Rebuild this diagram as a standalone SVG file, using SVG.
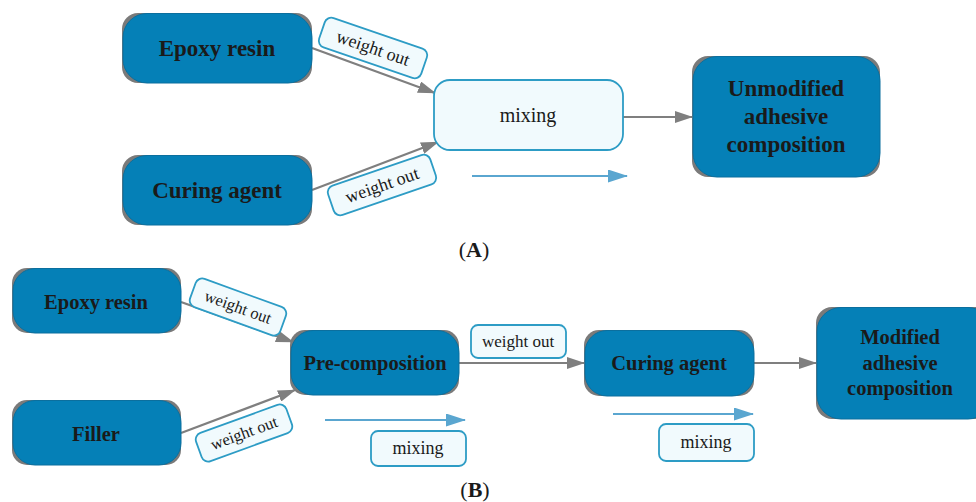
<svg xmlns="http://www.w3.org/2000/svg" width="976" height="502" viewBox="0 0 976 502">
<defs>
<marker id="ag" markerWidth="18" markerHeight="12" refX="17" refY="6" orient="auto" markerUnits="userSpaceOnUse" viewBox="0 0 18 12"><path d="M0,0 L18,6 L0,12 z" fill="#7f7f7f"/></marker>
<marker id="ab" markerWidth="20" markerHeight="13" refX="19" refY="6.5" orient="auto" markerUnits="userSpaceOnUse" viewBox="0 0 20 13"><path d="M0,0 L20,6.5 L0,13 z" fill="#5aa6d0"/></marker>
</defs>
<style>
.sh{fill:#7a7a7a}
.node{fill:#0580b7;stroke:#0b6f9e;stroke-width:1}
.lab{fill:#f1fafd;stroke:#2d9cc5;stroke-width:1.8}
.bt{font-family:"Liberation Serif","Times New Roman",serif;font-weight:bold;fill:#1a1a1a;text-anchor:middle}
.rt{font-family:"Liberation Serif","Times New Roman",serif;fill:#1a1a1a;text-anchor:middle}
.cg{stroke:#7f7f7f;stroke-width:2.2;fill:none}
.cb{stroke:#5aa6d0;stroke-width:2.2;fill:none}
</style>
<g id="connectors">
<line class="cg" x1="312" y1="48" x2="435" y2="93" marker-end="url(#ag)"/>
<line class="cg" x1="312" y1="190" x2="438" y2="142" marker-end="url(#ag)"/>
<line class="cg" x1="621" y1="117" x2="692" y2="117" marker-end="url(#ag)"/>
<line class="cb" x1="472" y1="176" x2="627" y2="176" marker-end="url(#ab)"/>
<line class="cg" x1="181" y1="302" x2="293" y2="342" marker-end="url(#ag)"/>
<line class="cg" x1="181" y1="433" x2="295" y2="390" marker-end="url(#ag)"/>
<line class="cg" x1="459" y1="363" x2="584" y2="363" marker-end="url(#ag)"/>
<line class="cg" x1="754" y1="363" x2="816" y2="363" marker-end="url(#ag)"/>
<line class="cb" x1="325" y1="420" x2="465" y2="420" marker-end="url(#ab)"/>
<line class="cb" x1="613" y1="414" x2="753" y2="414" marker-end="url(#ab)"/>
</g>
<g id="a-epoxy"><rect class="sh" x="122" y="13" width="190" height="70" rx="16"/><rect class="node" x="123" y="13.5" width="189" height="69.5" rx="24"/><text class="bt" x="217" y="56" font-size="23">Epoxy resin</text></g>
<g id="a-curing"><rect class="sh" x="122" y="155" width="190" height="70" rx="16"/><rect class="node" x="123" y="155.5" width="189" height="69.5" rx="24"/><text class="bt" x="217" y="198" font-size="23">Curing agent</text></g>
<g id="a-mixing"><rect class="lab" x="434" y="80" width="189" height="70" rx="16"/><text class="rt" x="528" y="122" font-size="20">mixing</text></g>
<g id="a-unmod"><rect class="sh" x="692" y="56" width="188" height="121" rx="16"/><rect class="node" x="693" y="56.5" width="187" height="120.5" rx="24"/><text class="bt" x="786" y="96" font-size="23">Unmodified</text><text class="bt" x="786" y="124" font-size="23">adhesive</text><text class="bt" x="786" y="152" font-size="23">composition</text></g>
<g id="a-w1" transform="translate(373,48) rotate(19)"><rect class="lab" x="-54" y="-15.5" width="108" height="31" rx="7"/><text class="rt" x="0" y="6" font-size="18">weight out</text></g>
<g id="a-w2" transform="translate(382,185) rotate(-19)"><rect class="lab" x="-54" y="-15.5" width="108" height="31" rx="7"/><text class="rt" x="0" y="6" font-size="18">weight out</text></g>
<text class="rt" x="474" y="257" font-size="22">(<tspan font-weight="bold">A</tspan>)</text>
<g id="b-epoxy"><rect class="sh" x="12" y="268" width="169" height="65" rx="15"/><rect class="node" x="13" y="268.5" width="168" height="64.5" rx="22"/><text class="bt" x="96" y="309" font-size="20.5">Epoxy resin</text></g>
<g id="b-filler"><rect class="sh" x="12" y="400" width="169" height="65" rx="15"/><rect class="node" x="13" y="400.5" width="168" height="64.5" rx="22"/><text class="bt" x="96" y="441" font-size="20.5">Filler</text></g>
<g id="b-pre"><rect class="sh" x="290" y="330" width="169" height="65" rx="15"/><rect class="node" x="291" y="330.5" width="168" height="64.5" rx="22"/><text class="bt" x="375" y="370" font-size="20.5">Pre-composition</text></g>
<g id="b-curing"><rect class="sh" x="584" y="330" width="170" height="66" rx="15"/><rect class="node" x="585" y="330.5" width="169" height="65.5" rx="22"/><text class="bt" x="669" y="370" font-size="20.5">Curing agent</text></g>
<g id="b-mod"><rect class="sh" x="816" y="307" width="176" height="112" rx="16"/><rect class="node" x="817" y="307.5" width="175" height="111.5" rx="24"/><text class="bt" x="900" y="344" font-size="20.5">Modified</text><text class="bt" x="900" y="370" font-size="20.5">adhesive</text><text class="bt" x="900" y="395" font-size="20.5">composition</text></g>
<g id="b-w1" transform="translate(238,307) rotate(20)"><rect class="lab" x="-48" y="-15" width="96" height="30" rx="7"/><text class="rt" x="0" y="5.5" font-size="16.5">weight out</text></g>
<g id="b-w2" transform="translate(244,433) rotate(-20)"><rect class="lab" x="-48" y="-15" width="96" height="30" rx="7"/><text class="rt" x="0" y="5.5" font-size="16.5">weight out</text></g>
<g id="b-w3"><rect class="lab" x="471" y="325" width="95" height="33" rx="7"/><text class="rt" x="518" y="347" font-size="17">weight out</text></g>
<g id="b-mix1"><rect class="lab" x="371" y="431" width="95" height="35" rx="7"/><text class="rt" x="418" y="454" font-size="18">mixing</text></g>
<g id="b-mix2"><rect class="lab" x="659" y="424" width="95" height="37" rx="7"/><text class="rt" x="706" y="448" font-size="18">mixing</text></g>
<text class="rt" x="475" y="497" font-size="22">(<tspan font-weight="bold">B</tspan>)</text>
</svg>
